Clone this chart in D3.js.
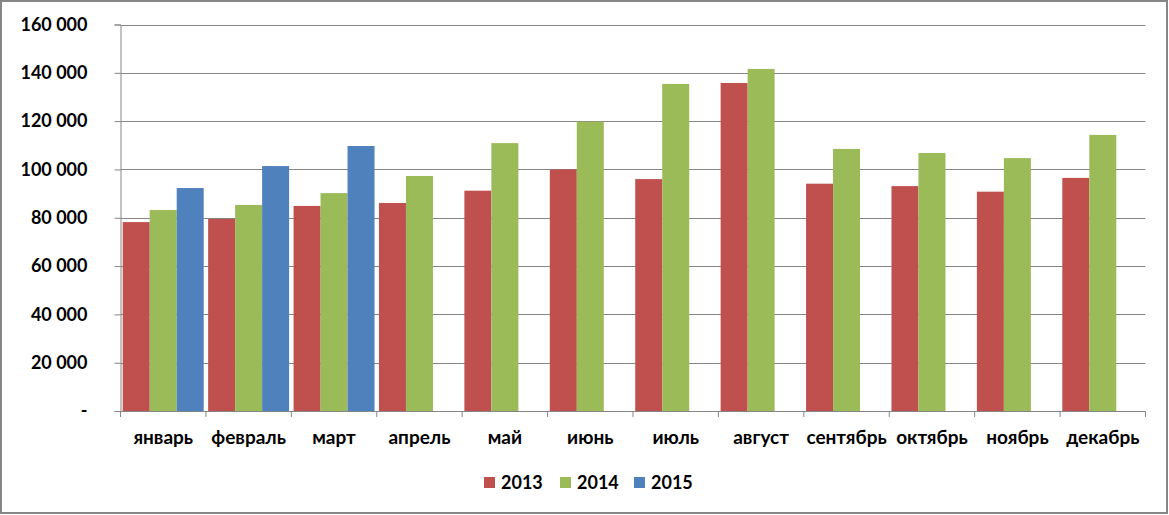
<!DOCTYPE html>
<html>
<head>
<meta charset="utf-8">
<script src="https://cdn.jsdelivr.net/npm/d3@7/dist/d3.min.js"></script>
<style>
  html, body { margin: 0; padding: 0; background: #fff; }
  svg { display: block; }
  text { font-family: Lato, "Open Sans", sans-serif; font-weight: bold; fill: #000; }
</style>
</head>
<body>
<svg id="chart" width="1169" height="515"></svg>
<script>
const months = ["январь","февраль","март","апрель","май","июнь","июль","август","сентябрь","октябрь","ноябрь","декабрь"];
const seriesNames = ["2013","2014","2015"];
const values2013 = [78200, 79500, 84900, 86100, 91200, 100000, 96000, 135800, 94100, 93100, 90800, 96500];
const values2014 = [83200, 85300, 90200, 97300, 110900, 119800, 135400, 141600, 108500, 106800, 104700, 114300];
const values2015 = [92300, 101400, 109700, null, null, null, null, null, null, null, null, null];
const colors = ["#C0504D", "#9BBB59", "#4F81BD"];
const yTicks = [0, 20000, 40000, 60000, 80000, 100000, 120000, 140000, 160000];

(function () {
const allSeries = [values2013, values2014, values2015];
const svg = d3.select("#chart");

// frame
svg.append("rect").attr("x", 1).attr("y", 1).attr("width", 1166).attr("height", 512)
  .attr("fill", "#fff").attr("stroke", "#868686").attr("stroke-width", 2);

const pLeft = 120.5, pRight = 1145.5, pTop = 24.5, pBottom = 411;
const x0 = d3.scaleBand().domain(months).range([pLeft, pRight]).padding(0);
const bw = x0.bandwidth();
const gap = bw * 0.026;
const x1 = d3.scaleBand().domain(seriesNames).range([gap, bw - gap]).padding(0);
const y = d3.scaleLinear().domain([0, 160000]).range([pBottom, pTop]);

const fmt = v => v === 0 ? "-" : d3.format(",")(v).replace(/,/g, " ");
const FONT = "Lato, 'Open Sans', sans-serif";

// gridlines
svg.append("g").selectAll("line").data(yTicks.filter(t => t > 0)).join("line")
  .attr("x1", pLeft).attr("x2", pRight)
  .attr("y1", d => Math.round(y(d)) + 0.5).attr("y2", d => Math.round(y(d)) + 0.5)
  .attr("stroke", "#868686").attr("stroke-width", 1);

// bars
const g = svg.append("g");
months.forEach((m, i) => {
  allSeries.forEach((s, j) => {
    const v = s[i];
    if (v == null) return;
    g.append("rect")
      .attr("x", x0(m) + x1(seriesNames[j]))
      .attr("width", x1.bandwidth())
      .attr("y", y(v))
      .attr("height", y(0) - y(v))
      .attr("fill", colors[j]);
  });
});

// y axis
const yAxis = d3.axisLeft(y).tickValues(yTicks).tickFormat(fmt).tickSize(6).tickPadding(27);
const ya = svg.append("g").attr("transform", `translate(${pLeft},0)`).call(yAxis);
ya.select(".domain").attr("stroke", "#868686");
ya.selectAll(".tick line").attr("stroke", "#868686");
ya.selectAll(".tick text").attr("font-size", 18).attr("font-family", FONT).attr("font-weight", "bold").attr("fill", "#000");

// x axis
const xAxis = d3.axisBottom(x0).tickSize(0).tickPadding(20);
const xa = svg.append("g").attr("transform", `translate(0,${pBottom})`).call(xAxis);
xa.select(".domain").attr("stroke", "#868686");
xa.selectAll(".tick text").attr("font-size", 19).attr("font-family", FONT).attr("font-weight", "bold").attr("fill", "#000");
// category boundary tick marks
const bounds = months.map(m => x0(m)).concat([pRight]);
svg.append("g").selectAll("line").data(bounds).join("line")
  .attr("x1", d => d).attr("x2", d => d)
  .attr("y1", pBottom).attr("y2", pBottom + 6)
  .attr("stroke", "#868686");

// legend
const legendX = [484, 560, 634];
const lg = svg.append("g");
seriesNames.forEach((n, j) => {
  lg.append("rect").attr("x", legendX[j]).attr("y", 477).attr("width", 11).attr("height", 11).attr("fill", colors[j]);
  lg.append("text").attr("x", legendX[j] + 17).attr("y", 483).attr("dy", "0.36em")
    .attr("font-size", 18).text(n);
});
})();
</script>
</body>
</html>
